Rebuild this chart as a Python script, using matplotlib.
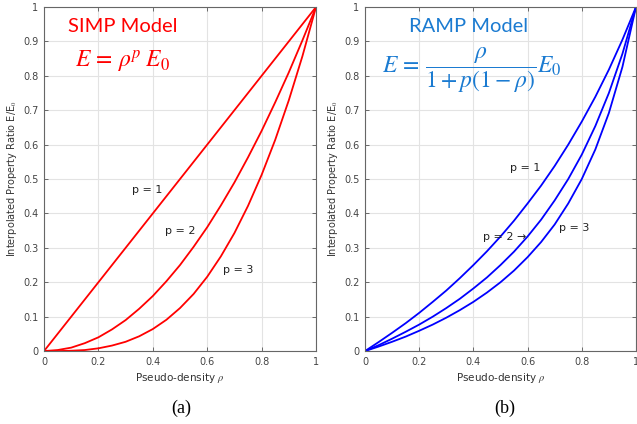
import matplotlib
matplotlib.use("Agg")
import matplotlib.pyplot as plt

plt.rcParams['mathtext.fontset'] = 'stix'

# pseudo-density values read along the x axis
rho = [0.00, 0.05, 0.10, 0.15, 0.20, 0.25, 0.30, 0.35, 0.40, 0.45, 0.50,
       0.55, 0.60, 0.65, 0.70, 0.75, 0.80, 0.85, 0.90, 0.95, 1.00]

# SIMP curves (left panel)
simp_p1 = [0.000, 0.050, 0.100, 0.150, 0.200, 0.250, 0.300, 0.350, 0.400, 0.450, 0.500,
           0.550, 0.600, 0.650, 0.700, 0.750, 0.800, 0.850, 0.900, 0.950, 1.000]
simp_p2 = [0.000, 0.003, 0.010, 0.023, 0.040, 0.063, 0.090, 0.123, 0.160, 0.203, 0.250,
           0.303, 0.360, 0.423, 0.490, 0.563, 0.640, 0.723, 0.810, 0.903, 1.000]
simp_p3 = [0.000, 0.000, 0.001, 0.003, 0.008, 0.016, 0.027, 0.043, 0.064, 0.091, 0.125,
           0.166, 0.216, 0.275, 0.343, 0.422, 0.512, 0.614, 0.729, 0.857, 1.000]

# RAMP curves (right panel)
ramp_p1 = [0.000, 0.026, 0.053, 0.081, 0.111, 0.143, 0.176, 0.212, 0.250, 0.290, 0.333,
           0.379, 0.429, 0.481, 0.538, 0.600, 0.667, 0.739, 0.818, 0.905, 1.000]
ramp_p2 = [0.000, 0.017, 0.036, 0.056, 0.077, 0.100, 0.125, 0.152, 0.182, 0.214, 0.250,
           0.289, 0.333, 0.382, 0.438, 0.500, 0.571, 0.654, 0.750, 0.864, 1.000]
ramp_p3 = [0.000, 0.013, 0.027, 0.042, 0.059, 0.077, 0.097, 0.119, 0.143, 0.170, 0.200,
           0.234, 0.273, 0.317, 0.368, 0.429, 0.500, 0.586, 0.692, 0.826, 1.000]

xticks = [0, 0.2, 0.4, 0.6, 0.8, 1]
xticklabels = ['0', '0.2', '0.4', '0.6', '0.8', '1']
yticks = [0, 0.1, 0.2, 0.3, 0.4, 0.5, 0.6, 0.7, 0.8, 0.9, 1]
yticklabels = ['0', '0.1', '0.2', '0.3', '0.4', '0.5', '0.6', '0.7', '0.8', '0.9', '1']

fig = plt.figure(figsize=(6.37, 4.24), dpi=100)
ax1 = fig.add_axes([0.0691, 0.172, 0.427, 0.8115])
ax2 = fig.add_axes([0.573, 0.172, 0.4254, 0.8115])


def style(ax):
    ax.set_xlim(0, 1)
    ax.set_ylim(0, 1)
    ax.set_xticks(xticks)
    ax.set_xticklabels(xticklabels)
    ax.set_yticks(yticks)
    ax.set_yticklabels(yticklabels)
    ax.grid(True, color='#e3e3e3', lw=0.8)
    ax.set_axisbelow(True)
    ax.tick_params(direction='in', top=True, right=True, length=3, width=0.6,
                   labelsize=7, colors='#555555', labelcolor='#444444', pad=4)
    for s in ax.spines.values():
        s.set_color('#666666')
        s.set_linewidth(0.8)
    ax.set_xlabel(r'Pseudo-density $\rho$', fontsize=7.5, color='#333333', labelpad=3)
    ax.set_ylabel(r'Interpolated Property Ratio E/E$_0$', fontsize=7, color='#333333', labelpad=3)


style(ax1)
ax1.plot(rho, simp_p1, color='#ff0000', lw=1.3)
ax1.plot(rho, simp_p2, color='#ff0000', lw=1.3)
ax1.plot(rho, simp_p3, color='#ff0000', lw=1.3)
ax1.text(0.38, 0.468, 'p = 1', fontsize=8, color='#222222', ha='center', va='center')
ax1.text(0.50, 0.349, 'p = 2', fontsize=8, color='#222222', ha='center', va='center')
ax1.text(0.713, 0.235, 'p = 3', fontsize=8, color='#222222', ha='center', va='center')
ax1.text(0.29, 0.942, 'SIMP Model', fontsize=14.5, family='Lato', color='#ff0000',
         ha='center', va='center')
ax1.text(0.287, 0.84, r'$E\,=\,\rho^{p}\;E_0$', fontsize=17, color='#ff0000',
         ha='center', va='center')

style(ax2)
ax2.plot(rho, ramp_p1, color='#0000ff', lw=1.3)
ax2.plot(rho, ramp_p2, color='#0000ff', lw=1.3)
ax2.plot(rho, ramp_p3, color='#0000ff', lw=1.3)
ax2.text(0.59, 0.532, 'p = 1', fontsize=8, color='#222222', ha='center', va='center')
ax2.text(0.517, 0.331, 'p = 2 \u2192', fontsize=8, color='#222222', ha='center', va='center')
ax2.text(0.771, 0.357, 'p = 3', fontsize=8, color='#222222', ha='center', va='center')
ax2.text(0.384, 0.942, 'RAMP Model', fontsize=14.5, family='Lato', color='#1b7bd1',
         ha='center', va='center')
ax2.text(0.395, 0.815, r'$E\,=\,\dfrac{\rho}{1+p(1-\rho)}E_0$', fontsize=17, color='#1b7bd1',
         ha='center', va='center')

fig.text(0.284, 0.038, '(a)', fontsize=13, family='Liberation Serif', ha='center', va='center')
fig.text(0.793, 0.038, '(b)', fontsize=13, family='Liberation Serif', ha='center', va='center')

fig.savefig('out.png', dpi=100)
